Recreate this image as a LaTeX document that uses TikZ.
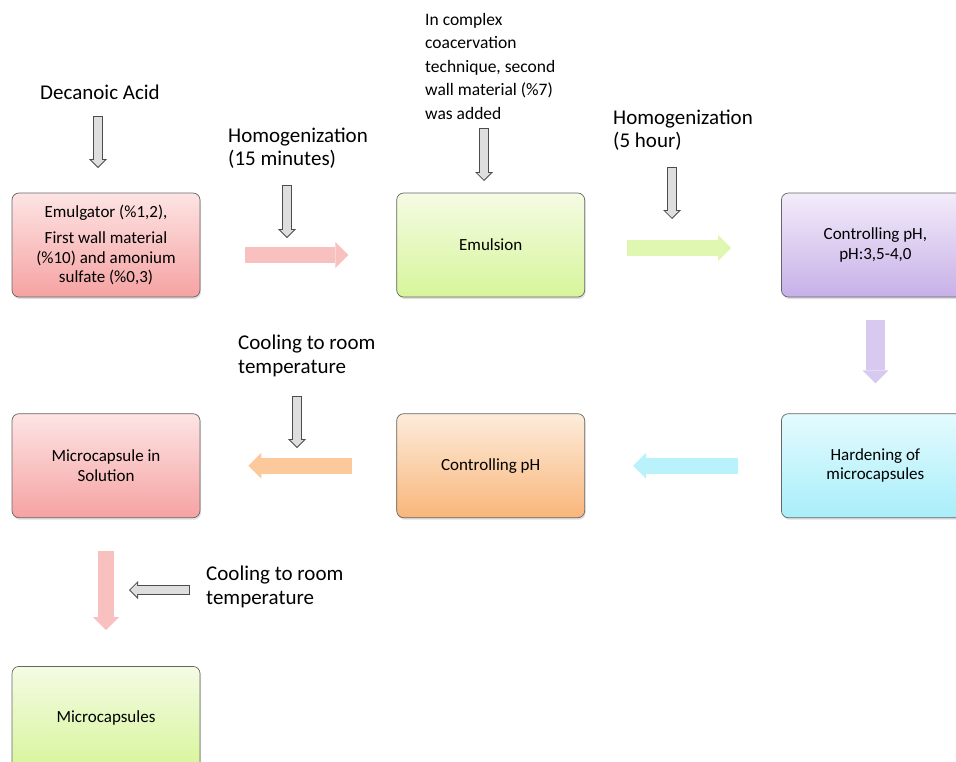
\documentclass[tikz,border=0pt]{standalone}
\usepackage{fontspec}
\setmainfont{Carlito}
\usetikzlibrary{arrows.meta,positioning,shadows}
\definecolor{redT}{HTML}{FDE4E4}\definecolor{redB}{HTML}{F6A2A2}
\definecolor{grnT}{HTML}{F4FBE4}\definecolor{grnB}{HTML}{D7F59A}
\definecolor{purT}{HTML}{F3ECFA}\definecolor{purB}{HTML}{C7B0E8}
\definecolor{cyaT}{HTML}{E4FBFE}\definecolor{cyaB}{HTML}{A8EEFA}
\definecolor{oraT}{HTML}{FDECDB}\definecolor{oraB}{HTML}{F9B67A}
\definecolor{redA}{HTML}{F9C0C0}\definecolor{grnA}{HTML}{E0F7B2}
\definecolor{purA}{HTML}{D8C9F1}\definecolor{cyaA}{HTML}{BAF2FB}
\definecolor{oraA}{HTML}{FBC99C}
\begin{document}
\begin{tikzpicture}[x=1pt,y=1pt,
box/.style={draw=black!60,line width=0.7pt,rounded corners=7pt,minimum width=188pt,minimum height=104pt,align=center,font=\fontsize{17}{19.5}\selectfont,drop shadow={opacity=0.25,shadow xshift=1pt,shadow yshift=-2pt}},
redbox/.style={box,top color=redT,bottom color=redB},
grnbox/.style={box,top color=grnT,bottom color=grnB},
purbox/.style={box,top color=purT,bottom color=purB},
cyabox/.style={box,top color=cyaT,bottom color=cyaB},
orabox/.style={box,top color=oraT,bottom color=oraB},
lbl/.style={align=left,inner sep=0pt,font=\fontsize{21}{23.5}\selectfont},
fat/.style={line width=16pt,-{Triangle[width=26pt,length=13pt,line width=0pt]}},
hollow/.style={line width=8pt,draw=black!13,shorten >=1.4pt,shorten <=1pt,-{Triangle[width=13.2pt,length=6.6pt,line width=0pt]},
  preaction={draw=black!70,line width=10pt,shorten >=0pt,shorten <=0pt,-{Triangle[width=18pt,length=9pt,line width=0pt]}}},
node distance=116pt and 196pt]
\useasboundingbox (0,0) rectangle (956,-761);
\node[redbox] (mix) at (106,-245) {Emulgator (\%1,2),\\[7pt]First wall material\\(\%10) and amonium\\sulfate (\%0,3)};
\node[grnbox,right=of mix] (emul) {Emulsion};
\node[purbox,right=of emul] (phset) {Controlling pH,\\[1pt]pH:3,5-4,0};
\node[cyabox,below=of phset] (hard) {Hardening of\\microcapsules};
\node[orabox,below=of emul] (phctl) {Controlling pH};
\node[redbox,below=of mix] (sol) {Microcapsule in\\Solution};
\node[grnbox,below=148pt of sol] (caps) {Microcapsules};
\node[lbl] (acid) at (100,-92) {Decanoic Acid};
\node[lbl,anchor=west] (hom1) at (228,-148) {Homogenization\\(15 minutes)};
\node[lbl,anchor=west,font=\fontsize{17.5}{23.5}\selectfont] (cplx) at (425,-66) {In complex\\coacervation\\technique, second\\wall material (\%7)\\was added};
\node[lbl,anchor=west] (hom2) at (613,-130) {Homogenization\\(5 hour)};
\node[lbl,anchor=west] (cool1) at (238,-356) {Cooling to room\\temperature};
\node[lbl,anchor=west] (cool2) at (206,-587) {Cooling to room\\temperature};
\draw[fat,draw=redA,shorten <=45pt,shorten >=48pt] ([yshift=-10pt]mix.east) -- ([yshift=-10pt]emul.west);
\draw[fat,draw=grnA,shorten <=42pt,shorten >=50pt] ([yshift=-3pt]emul.east) -- ([yshift=-3pt]phset.west);
\draw[fat,line width=19pt,draw=purA,shorten <=23pt,shorten >=30pt] (phset.south) -- (hard.north);
\draw[fat,draw=cyaA,shorten <=43pt,shorten >=48pt] (hard.west) -- (phctl.east);
\draw[fat,draw=oraA,shorten <=44pt,shorten >=48pt] (phctl.west) -- (sol.east);
\draw[fat,draw=redA,shorten <=33pt,shorten >=36pt] (sol.south) -- (caps.north);
\coordinate (g1) at (98,-168);
\coordinate (g2) at (287,-238);
\coordinate (g3) at (484,-181);
\coordinate (g4) at (672,-219);
\coordinate (g5) at (297,-448);
\coordinate (g6) at (129,-590);
\draw[hollow] ([yshift=-16pt]acid.south -| g1) -- (g1);
\draw[hollow] ([yshift=-16pt]hom1.south -| g2) -- (g2);
\draw[hollow] ([yshift=-9pt]cplx.south -| g3) -- (g3);
\draw[hollow] ([yshift=-16pt]hom2.south -| g4) -- (g4);
\draw[hollow] ([yshift=-19pt]cool1.south -| g5) -- (g5);
\draw[hollow] ([xshift=-16pt]cool2.west |- g6) -- (g6);
\end{tikzpicture}
\end{document}
